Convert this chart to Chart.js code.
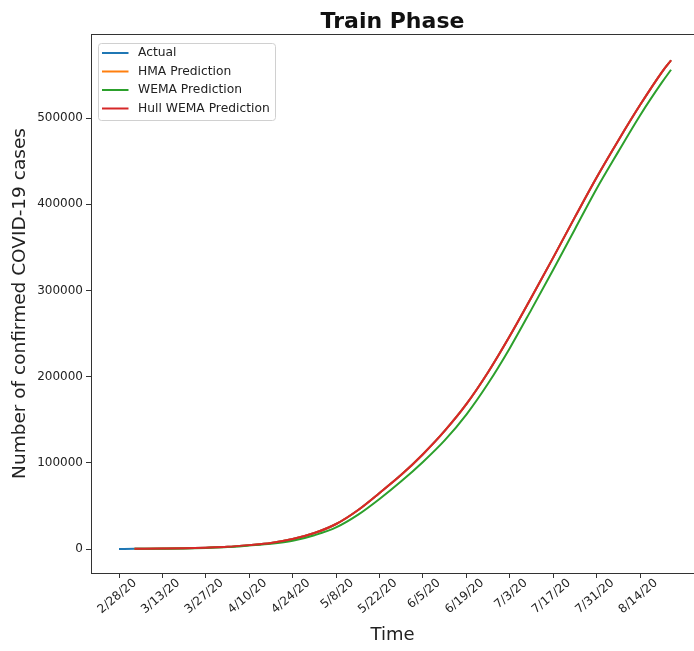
<!DOCTYPE html>
<html>
<head>
<meta charset="utf-8">
<script src="https://cdn.jsdelivr.net/npm/chart.js@4.4.1/dist/chart.umd.min.js"></script>
<style>
  body { margin: 0; background: #fff; }
  #wrap { width: 694px; height: 651px; }
</style>
</head>
<body>
<div id="wrap"><canvas id="trainChart" width="694" height="651"></canvas></div>
<script>
// days counted from 2/28/20
const tickDays = [0, 14, 28, 42, 56, 70, 84, 98, 112, 126, 140, 154, 168];
const tickLabels = ['2/28/20', '3/13/20', '3/27/20', '4/10/20', '4/24/20', '5/8/20', '5/22/20',
                    '6/5/20', '6/19/20', '7/3/20', '7/17/20', '7/31/20', '8/14/20'];
const yTicks = [0, 100000, 200000, 300000, 400000, 500000];

const actualDays = [0, 5, 14, 21, 28, 35, 42, 49, 56, 63, 70, 77, 84, 91, 98, 105, 112, 119, 126, 133, 140, 147, 154, 161, 168, 175, 178];
const actualCases = [0, 300, 500, 800, 1500, 2500, 4500, 7000, 11500, 18500, 29000, 45000, 65000, 86000, 110000, 137000,
                     168000, 205000, 247000, 292000, 338000, 385000, 431000, 474000, 515000, 553000, 567000];

const predDays = [5, 14, 21, 28, 35, 42, 49, 56, 63, 70, 77, 84, 91, 98, 105, 112, 119, 126, 133, 140, 147, 154, 161, 168, 175, 178];
const hmaPred = [300, 500, 800, 1500, 2500, 4500, 7000, 11500, 18500, 29000, 45000, 65000, 86000, 110000, 137000,
                 168000, 205000, 247000, 292000, 338000, 385000, 431000, 474000, 515000, 553000, 567000];
const wemaPred = [200, 400, 700, 1300, 2200, 4000, 6000, 9500, 16000, 25000, 39500, 58000, 78500, 101000, 126000,
                  156000, 192000, 233000, 278000, 324000, 371000, 418000, 461000, 503000, 541000, 556000];
const hullWemaPred = [300, 500, 800, 1500, 2500, 4500, 7000, 11500, 18500, 29000, 45000, 65000, 86000, 110000, 137000,
                      168000, 205000, 247000, 292000, 338000, 385000, 431000, 474000, 515000, 553000, 567000];

const font = 'DejaVu Sans';

function pts(xs, ys) {
    return xs.map((x, i) => ({x: x, y: ys[i]}));
}

function line(label, xs, ys, color, order) {
    return {
        label: label,
        data: pts(xs, ys),
        borderColor: color,
        backgroundColor: color,
        borderWidth: 2,
        pointRadius: 0,
        cubicInterpolationMode: 'monotone',
        fill: false,
        order: order
    };
}

// matplotlib style legend box in the upper left
const boxLegend = {
    id: 'boxLegend',
    afterDatasetsDraw(chart) {
        const ctx = chart.ctx;
        const a = chart.chartArea;
        const x0 = a.left + 7.5, y0 = a.top + 9.5;
        ctx.save();
        ctx.fillStyle = 'rgba(255,255,255,0.85)';
        ctx.strokeStyle = '#d0d0d0';
        ctx.lineWidth = 1;
        ctx.beginPath();
        ctx.roundRect(x0, y0, 177, 77, 3);
        ctx.fill();
        ctx.stroke();
        ctx.font = '12.3px "' + font + '"';
        ctx.textBaseline = 'middle';
        chart.data.datasets.forEach((ds, i) => {
            const y = y0 + 9.5 + i * 18.5;
            ctx.strokeStyle = ds.borderColor;
            ctx.lineWidth = 2;
            ctx.beginPath();
            ctx.moveTo(x0 + 3.5, y);
            ctx.lineTo(x0 + 30, y);
            ctx.stroke();
            ctx.fillStyle = '#222';
            ctx.fillText(ds.label, x0 + 39.5, y);
        });
        ctx.restore();
    }
};

const config = {
    type: 'line',
    data: {
        datasets: [
            line('Actual', actualDays, actualCases, '#1f77b4', 4),
            line('HMA Prediction', predDays, hmaPred, '#ff7f0e', 3),
            line('WEMA Prediction', predDays, wemaPred, '#2ca02c', 2),
            line('Hull WEMA Prediction', predDays, hullWemaPred, '#d62728', 1)
        ]
    },
    options: {
        responsive: false,
        animation: false,
        layout: { padding: 0 },
        plugins: {
            legend: { display: false },
            title: { display: false },
            tooltip: { enabled: false }
        },
        scales: {
            x: {
                type: 'linear',
                position: 'bottom',
                min: -9.03,
                max: 185.4,
                afterBuildTicks: (scale) => { scale.ticks = tickDays.map(v => ({value: v})); },
                afterFit: (scale) => { scale.height = 78; },
                grid: { drawOnChartArea: false, drawTicks: true, tickLength: 5, color: '#333' },
                border: { display: true, color: '#333', width: 1 },
                ticks: {
                    autoSkip: false,
                    minRotation: 40,
                    maxRotation: 40,
                    labelOffset: 16,
                    padding: -2,
                    color: '#222',
                    font: { family: font, size: 12 },
                    callback: (value, index) => tickLabels[index]
                },
                title: {
                    display: true,
                    text: 'Time',
                    color: '#222',
                    font: { family: font, size: 18 },
                    padding: { top: 0, bottom: 5 }
                }
            },
            top: {
                type: 'linear',
                position: 'top',
                min: -9.03,
                max: 185.4,
                afterFit: (scale) => { scale.height = 34; },
                grid: { display: true, drawOnChartArea: false, drawTicks: false },
                border: { display: true, color: '#333', width: 1 },
                ticks: { display: false },
                title: {
                    display: true,
                    text: 'Train Phase',
                    color: '#111',
                    font: { family: font, size: 22, weight: 'bold' },
                    padding: { top: 9, bottom: 0 }
                }
            },
            y: {
                type: 'linear',
                position: 'left',
                min: -27842,
                max: 597448,
                afterBuildTicks: (scale) => { scale.ticks = yTicks.map(v => ({value: v})); },
                afterFit: (scale) => { scale.width = 91; },
                grid: { drawOnChartArea: false, drawTicks: true, tickLength: 5, color: '#333' },
                border: { display: true, color: '#333', width: 1 },
                ticks: {
                    padding: 3,
                    color: '#222',
                    font: { family: font, size: 12 },
                    callback: (value) => String(value)
                },
                title: {
                    display: true,
                    text: 'Number of confirmed COVID-19 cases',
                    color: '#222',
                    font: { family: font, size: 18.5 },
                    padding: { top: 9, bottom: 0 }
                }
            }
        }
    },
    plugins: [boxLegend]
};

const trainChart = new Chart(document.getElementById('trainChart'), config);
</script>
</body>
</html>
